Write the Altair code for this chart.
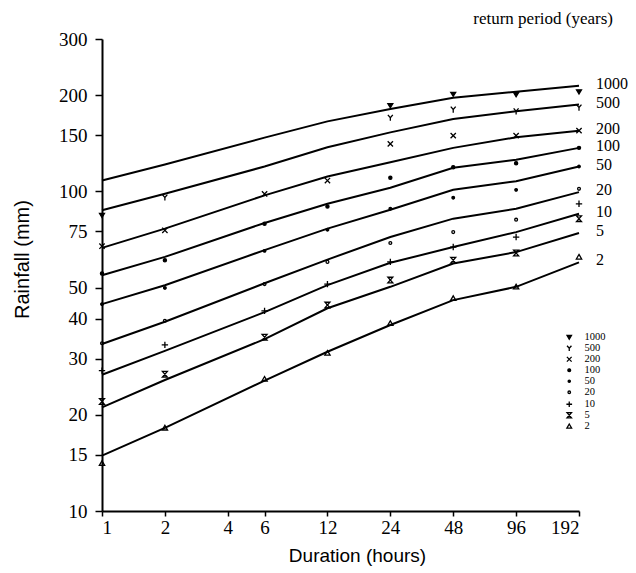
import altair as alt
import pandas as pd

# Storm durations (hours) and return periods (years)
durations = [1, 2, 6, 12, 24, 48, 96, 192]
periods = ["1000", "500", "200", "100", "50", "20", "10", "5", "2"]

# Fitted depth-duration curves (mm), one per return period
curve_1000 = [108.2, 121.4, 147.4, 165.7, 181.1, 196.6, 205.1, 214.1]
curve_500 = [87.3, 98.4, 119.7, 137.5, 153.1, 168.6, 178.3, 187.1]
curve_200 = [66.6, 76.5, 97.2, 111.4, 123.4, 136.9, 147.7, 155.0]
curve_100 = [54.7, 62.4, 79.7, 91.5, 102.7, 118.6, 125.6, 136.9]
curve_50 = [44.4, 50.9, 65.5, 76.5, 87.7, 101.2, 107.7, 119.7]
curve_20 = [33.3, 39.1, 51.6, 61.2, 72.0, 82.2, 88.3, 99.5]
curve_10 = [26.7, 31.7, 41.9, 50.9, 59.8, 67.0, 74.6, 85.2]
curve_5 = [21.1, 25.7, 34.5, 43.1, 50.3, 59.5, 64.6, 74.1]
curve_2 = [14.9, 18.2, 25.6, 31.5, 38.2, 45.7, 50.3, 60.0]

# Estimated point values (mm); None where no estimate is plotted
obs_1000 = [84.2, None, None, None, 185.5, 201.5, 200.8, 205.1]
obs_500 = [None, 95.8, None, None, 170.2, 180.5, 178.3, 183.2]
obs_200 = [67.4, 75.6, 98.2, 108.2, 140.9, 149.5, 149.5, 155.0]
obs_100 = [55.4, 60.9, 79.3, 89.8, 110.3, 119.1, 122.6, 136.9]
obs_50 = [44.4, 49.9, 65.2, 75.9, 88.3, 95.6, 101.2, 119.7]
obs_20 = [33.5, 39.4, 51.3, 60.2, 69.0, 74.6, 81.6, 101.9]
obs_10 = [27.5, 33.1, 42.3, 51.3, 60.2, 67.0, 72.0, 91.5]
obs_5 = [22.0, 26.8, 35.0, 44.1, 52.8, 60.9, 64.2, 82.2]
obs_2 = [14.1, 18.2, 25.9, 31.2, 38.7, 46.3, 50.3, 62.4]

x_ticks = [1, 2, 4, 6, 12, 24, 48, 96, 192]
y_ticks = [10, 15, 20, 30, 40, 50, 75, 100, 150, 200, 300]

curves = [curve_1000, curve_500, curve_200, curve_100, curve_50,
          curve_20, curve_10, curve_5, curve_2]
observed = [obs_1000, obs_500, obs_200, obs_100, obs_50,
            obs_20, obs_10, obs_5, obs_2]

curve_rows, obs_rows, label_rows = [], [], []
for p, cv, ob in zip(periods, curves, observed):
    for d, v in zip(durations, cv):
        curve_rows.append({"period": p, "duration": d, "rain": v})
    for d, v in zip(durations, ob):
        if v is not None:
            obs_rows.append({"period": p, "duration": d, "rain": v})
    label_rows.append({"period": p, "duration": durations[-1], "rain": cv[-1]})

curve_df = pd.DataFrame(curve_rows)
obs_df = pd.DataFrame(obs_rows)
label_df = pd.DataFrame(label_rows)

SERIF = "Liberation Serif"
SANS = "Liberation Sans"

# Plotting symbols drawn as unit-box SVG paths
symbol_paths = [
    "M-0.7,-0.55L0.7,-0.55L0,0.6Z",                       # 1000 down triangle
    "M-0.7,-0.8L0,0L0.7,-0.8M0,0L0,0.9",                  # 500 Y
    "M-0.75,-0.75L0.75,0.75M-0.75,0.75L0.75,-0.75",       # 200 cross
    "M-0.45,0A0.45,0.45,0,1,1,0.45,0A0.45,0.45,0,1,1,-0.45,0",  # 100 dot
    "M-0.36,0A0.36,0.36,0,1,1,0.36,0A0.36,0.36,0,1,1,-0.36,0",  # 50 dot
    "M-0.4,0A0.4,0.4,0,1,1,0.4,0A0.4,0.4,0,1,1,-0.4,0",    # 20 ring
    "M-0.9,0L0.9,0M0,-0.9L0,0.9",                          # 10 plus
    "M-0.7,-0.8L0.7,-0.8L-0.7,0.8L0.7,0.8Z",               # 5 hourglass
    "M0,-0.7L0.75,0.6L-0.75,0.6Z",                         # 2 up triangle
]
symbol_fills = ["black", "transparent", "transparent", "black", "black",
                "transparent", "transparent", "transparent", "transparent"]
symbol_strokes = ["black"] * len(periods)

x_enc = alt.X(
    "duration:Q",
    scale=alt.Scale(type="log", base=2, domain=[1, 192], nice=False),
    axis=alt.Axis(values=x_ticks, format="d", title="Duration (hours)",
                  titlePadding=9, labelPadding=2, tickSize=5,
                  titleX=255, titleFontSize=19),
)
y_enc = alt.Y(
    "rain:Q",
    scale=alt.Scale(type="log", domain=[10, 300], nice=False),
    axis=alt.Axis(values=y_ticks, format="d", title="Rainfall (mm)",
                  titlePadding=26, labelPadding=8, tickSize=7,
                  titleY=220, titleFontSize=20),
)

lines = alt.Chart(curve_df).mark_line(color="black", strokeWidth=2).encode(
    x=x_enc, y=y_enc, detail="period:N"
)

legend = alt.Legend(
    title=None, orient="none", legendX=462, legendY=293,
    labelFont=SERIF, labelFontSize=10.5, labelColor="black", labelOffset=10,
    rowPadding=0, symbolSize=40, symbolStrokeColor="black",
    symbolStrokeWidth=1.3, padding=0,
)

points = alt.Chart(obs_df).mark_point(
    strokeWidth=1.3, opacity=1, size=50
).encode(
    x=x_enc, y=y_enc,
    shape=alt.Shape("period:N", scale=alt.Scale(domain=periods, range=symbol_paths),
                    legend=legend),
    fill=alt.Fill("period:N", scale=alt.Scale(domain=periods, range=symbol_fills),
                  legend=legend),
    stroke=alt.Stroke("period:N", scale=alt.Scale(domain=periods, range=symbol_strokes),
                      legend=legend),
)

labels = alt.Chart(label_df).mark_text(
    align="left", baseline="middle", dx=17, dy=-2,
    font=SERIF, fontSize=16, color="black",
).encode(x=x_enc, y=y_enc, text="period:N")

chart = alt.layer(lines, points, labels).properties(
    width=477, height=472,
    background="white",
    padding={"left": 102, "top": 39, "right": 57, "bottom": 62},
    autosize=alt.AutoSizeParams(type="none"),
    title=alt.TitleParams(
        "return period (years)", anchor="end", frame="group", dx=34,
        offset=-15, baseline="bottom", font=SERIF, fontSize=17,
        fontWeight="normal", color="black",
    ),
).configure_view(stroke=None).configure_axis(
    grid=False, domainColor="black", domainWidth=2, tickColor="black",
    tickWidth=1.5, labelColor="black", labelFont=SERIF, labelFontSize=19,
    titleColor="black", titleFont=SANS, titleFontWeight="normal",
)

chart.save("out.html", embed_options={"renderer": "svg", "actions": False})
